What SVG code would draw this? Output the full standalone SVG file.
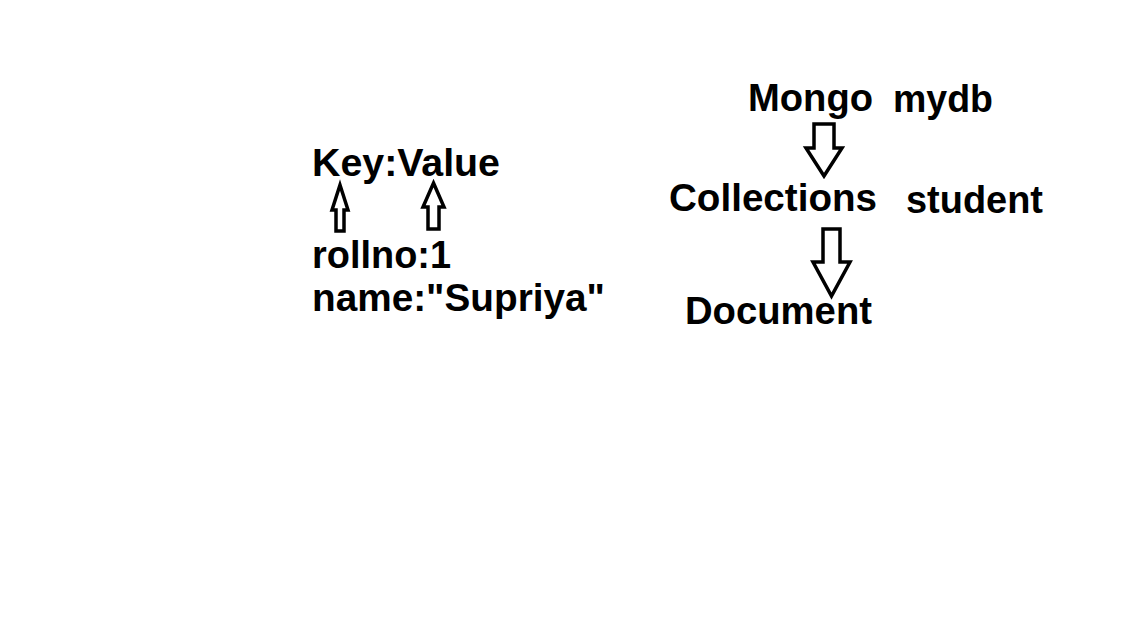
<svg xmlns="http://www.w3.org/2000/svg" width="1135" height="629" viewBox="0 0 1135 629">
<style>
.t{font-family:"Liberation Sans",Arial,sans-serif;font-weight:bold;font-size:39px;fill:#000}
.a{fill:#fff;stroke:#000;stroke-width:3.5;stroke-linejoin:miter}
</style>
<rect width="1135" height="629" fill="#fff"/>
<g id="key-value"><text class="t" x="312" y="176" textLength="188" lengthAdjust="spacingAndGlyphs">Key:Value</text></g>
<g id="rollno"><text class="t" x="312" y="268" textLength="139" lengthAdjust="spacingAndGlyphs">rollno:1</text></g>
<g id="name"><text class="t" x="312" y="311" textLength="293" lengthAdjust="spacingAndGlyphs">name:"Supriya"</text></g>
<g id="mongo"><text class="t" x="748" y="111" textLength="125" lengthAdjust="spacingAndGlyphs">Mongo</text></g>
<g id="mydb"><text class="t" x="893" y="112" textLength="100" lengthAdjust="spacingAndGlyphs">mydb</text></g>
<g id="collections"><text class="t" x="669" y="211" textLength="208" lengthAdjust="spacingAndGlyphs">Collections</text></g>
<g id="student"><text class="t" x="906" y="213" textLength="137" lengthAdjust="spacingAndGlyphs">student</text></g>
<g id="document"><text class="t" x="685" y="324" textLength="187" lengthAdjust="spacingAndGlyphs">Document</text></g>
<g id="connectors">
<path class="a" d="M340,185 L348,210 L344,210 L344,231 L336,231 L336,210 L332,210 Z"/>
<path class="a" d="M433.5,183 L444,207 L439,207 L439,229 L428,229 L428,207 L423,207 Z"/>
<path class="a" d="M814,124 L834,124 L834,148 L842,148 L824,176 L806,148 L814,148 Z"/>
<path class="a" d="M823,229 L840,229 L840,262 L850,262 L831.5,296 L813,262 L823,262 Z"/>
</g>
</svg>
